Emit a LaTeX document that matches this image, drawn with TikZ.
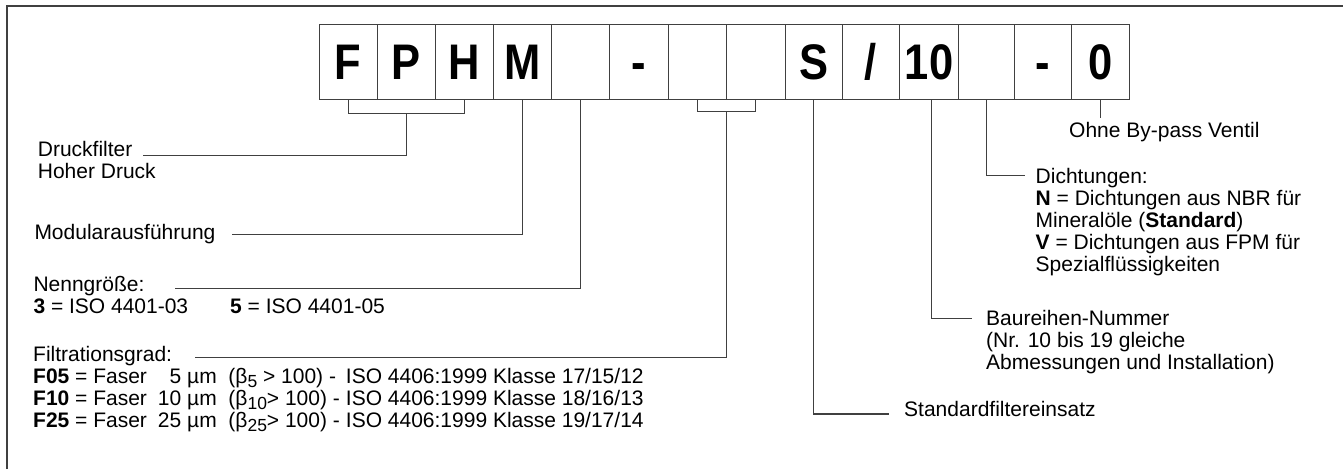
\documentclass[tikz,border=0pt]{standalone}
\usepackage{fontspec}
\setmainfont{Liberation Sans}
\newfontfamily\bigf[FakeStretch=0.87]{Liberation Sans}
\newcommand\bsub[1]{\raisebox{-4.5pt}{\fontsize{17.5}{17.5}\selectfont #1}}
\definecolor{ln}{HTML}{404040}
\begin{document}
\begin{tikzpicture}[x=1pt,y=-1pt,
  box/.style={draw=ln, line width=1pt, minimum height=75pt, inner sep=0pt,
    text height=36pt, text depth=0pt, font=\bigf\bfseries\fontsize{50}{50}\selectfont},
  conn/.style={draw=ln, line width=1.1pt},
  lbl/.style={inner sep=0pt, anchor=base west, font=\fontsize{21}{22}\selectfont}]
\useasboundingbox (0,0) rectangle (1343,469);
\draw[ln, line width=1.5pt] (7,469) -- (7,6) -- (1343,6);
% code boxes
\node[box, minimum width=58.3pt] (b1)  at (348.15,61.5) {F};
\node[box, minimum width=58.4pt] (b2)  at (406.5,61.5)  {P};
\node[box, minimum width=58pt]   (b3)  at (464.7,61.5)  {H};
\node[box, minimum width=58pt]   (b4)  at (522.7,61.5)  {M};
\node[box, minimum width=58pt]   (b5)  at (580.7,61.5)  {};
\node[box, minimum width=58.3pt] (b6)  at (638.85,61.5) {-};
\node[box, minimum width=58.3pt] (b7)  at (697.15,61.5) {};
\node[box, minimum width=58.7pt] (b8)  at (755.65,61.5) {};
\node[box, minimum width=57.3pt] (b9)  at (813.65,61.5) {S};
\node[box, minimum width=57pt]   (b10) at (870.8,61.5)  {/};
\node[box, minimum width=59.4pt] (b11) at (929,61.5)    {10};
\node[box, minimum width=56pt]   (b12) at (986.7,61.5)  {};
\node[box, minimum width=57pt]   (b13) at (1043.2,61.5) {-};
\node[box, minimum width=57.3pt] (b14) at (1100.35,61.5){0};
% labels
\node[lbl] (druck) at (37.7,156.7) {\begin{tabular}[t]{@{}l@{}}Druckfilter\\Hoher Druck\end{tabular}};
\node[lbl] (modul) at (34.3,239.5) {Modularausführung};
\node[lbl] (nenn) at (33.3,291.7) {\begin{tabular}[t]{@{}l@{}}Nenngröße:\\
  \makebox[196.7pt][l]{\textbf{3} = ISO 4401-03}\textbf{5} = ISO 4401-05\end{tabular}};
\node[lbl] (filt) at (33,361) {\begin{tabular}[t]{@{}l@{\hspace{11pt}}r@{ }l@{\hspace{6pt}}l@{}}
  \multicolumn{4}{@{}l@{}}{Filtrationsgrad:}\\
  \textbf{F05} = Faser & 5 & µm\ \ (β\bsub{5} > 100) - & ISO 4406:1999 Klasse 17/15/12\\
  \textbf{F10} = Faser & 10 & µm\ \ (β\bsub{10}> 100) - & ISO 4406:1999 Klasse 18/16/13\\
  \textbf{F25} = Faser & 25 & µm\ \ (β\bsub{25}> 100) - & ISO 4406:1999 Klasse 19/17/14\end{tabular}};
\node[lbl] (ohne) at (1069,137.3) {Ohne By-pass Ventil};
\node[lbl] (dicht) at (1035.5,183) {\begin{tabular}[t]{@{}l@{}}Dichtungen:\\
  \textbf{N} = Dichtungen aus NBR für\\ Mineralöle (\textbf{Standard})\\
  \textbf{V} = Dichtungen aus FPM für\\ Spezialflüssigkeiten\end{tabular}};
\node[lbl] (bau) at (986,325) {\begin{tabular}[t]{@{}l@{}}Baureihen-Nummer\\
  (Nr. 10 bis 19 gleiche\\ Abmessungen und Installation)\end{tabular}};
\node[lbl] (std) at (904,416.7) {Standardfiltereinsatz};
% connector ends
\coordinate (cDruck) at (142.7,155.7);
\coordinate (cModul) at (232,234.3);
\coordinate (cNenn) at (175,288.3);
\coordinate (cFilt) at (195,357.7);
\coordinate (cStd) at (889.3,414);
\coordinate (cBau) at (971.7,318.3);
\coordinate (cDicht) at (1025,175.3);
\coordinate (cOhne) at (1100.35,118);
% connectors
\draw[conn] (b1.south) -- ++(0,13.7) -| (b3.south);
\draw[conn] (b2.south) ++(0,13.7) |- (cDruck);
\draw[conn] (b4.south) |- (cModul);
\draw[conn] (b5.south) |- (cNenn);
\draw[conn] (b7.south) -- ++(0,12) -| (b8.south);
\draw[conn] (b7.south east) ++(0,12) |- (cFilt);
\draw[conn] (b9.south) |- (cStd);
\draw[conn] ([xshift=2.5pt]b11.south) |- (cBau);
\draw[conn] (b12.south) |- (cDicht);
\draw[conn] (b14.south) -- (cOhne);
\end{tikzpicture}
\end{document}
